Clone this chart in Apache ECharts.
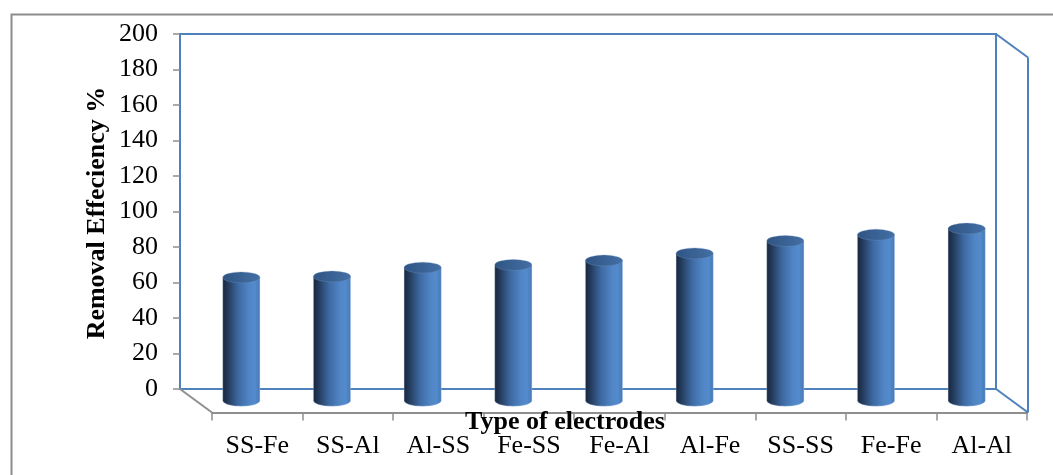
<!DOCTYPE html>
<html>
<head>
<meta charset="utf-8">
<script src="https://cdn.jsdelivr.net/npm/echarts@6/dist/echarts.min.js"></script>
<style>
  html, body { margin: 0; padding: 0; background: #ffffff; }
  #chart { width: 1053px; height: 475px; }
</style>
</head>
<body>
<div id="chart"></div>
<script>
// Electrode pairs and their removal efficiency (%)
const categories = ['SS-Fe', 'SS-Al', 'Al-SS', 'Fe-SS', 'Fe-Al', 'Al-Fe', 'SS-SS', 'Fe-Fe', 'Al-Al'];
const removalEfficiency = [69.5, 70, 75, 76.5, 79, 83, 90, 93.5, 97];
const yMin = 0;
const yMax = 200;
const yStep = 20;

// Oblique projection of the 3-D box: full floor depth on screen
const DEPTH_X = 32;
const DEPTH_Y = 23.5;
const FONT = '"Liberation Serif", "Times New Roman", Times, serif';
const WALL = '#4f81bd';
const FLOOR = '#8f8f8f';

const chart = echarts.init(document.getElementById('chart'), null, { renderer: 'canvas' });

// Wall and floor edges that the grid border and front axis don't cover
function renderFrame(params, api) {
  const band = api.size([1, 0])[0];
  const left = api.coord([0, yMin])[0] - band / 2;
  const right = api.coord([categories.length - 1, yMin])[0] + band / 2;
  const y0 = api.coord([0, yMin])[1];
  const yTop = api.coord([0, yMax])[1];
  const blue = { stroke: WALL, lineWidth: 2, fill: null };
  const gray = { stroke: FLOOR, lineWidth: 2, fill: null };
  return {
    type: 'group',
    children: [
      { type: 'line', shape: { x1: left, y1: y0, x2: left + DEPTH_X, y2: y0 + DEPTH_Y }, style: gray },
      { type: 'line', shape: { x1: right, y1: y0, x2: right + DEPTH_X, y2: y0 + DEPTH_Y }, style: blue },
      { type: 'line', shape: { x1: right, y1: yTop, x2: right + DEPTH_X, y2: yTop + DEPTH_Y }, style: blue },
      { type: 'line', shape: { x1: right + DEPTH_X, y1: yTop + DEPTH_Y, x2: right + DEPTH_X, y2: y0 + DEPTH_Y }, style: blue }
    ]
  };
}

// Cylinders standing in the middle of the floor depth
function renderCylinder(params, api) {
  const idx = api.value(0);
  const val = api.value(1);
  const band = api.size([1, 0])[0];
  const rx = band * 0.205;
  const ry = 5.5;
  const base = api.coord([idx, yMin]);
  const top = api.coord([idx, val]);
  const cx = base[0] + DEPTH_X / 2;
  const yb = base[1] + DEPTH_Y / 2;
  const yt = top[1] + DEPTH_Y / 2;
  const bodyFill = new echarts.graphic.LinearGradient(0, 0, 1, 0, [
    { offset: 0, color: '#17263c' },
    { offset: 0.16, color: '#253d5f' },
    { offset: 0.42, color: '#3d69a2' },
    { offset: 0.7, color: '#5084c5' },
    { offset: 0.86, color: '#548bcc' },
    { offset: 1, color: '#4677b3' }
  ]);
  const topFill = new echarts.graphic.LinearGradient(0, 0, 1, 0, [
    { offset: 0, color: '#2f5482' },
    { offset: 1, color: '#4470a6' }
  ]);
  const body =
    'M' + (cx - rx) + ',' + yt +
    'L' + (cx - rx) + ',' + yb +
    'A' + rx + ',' + ry + ',0,0,0,' + (cx + rx) + ',' + yb +
    'L' + (cx + rx) + ',' + yt + 'Z';
  const cap =
    'M' + (cx - rx) + ',' + yt +
    'A' + rx + ',' + ry + ',0,0,1,' + (cx + rx) + ',' + yt +
    'A' + rx + ',' + ry + ',0,0,1,' + (cx - rx) + ',' + yt + 'Z';
  return {
    type: 'group',
    children: [
      { type: 'path', shape: { pathData: body }, style: { fill: bodyFill, stroke: 'rgba(200,220,245,0.6)', lineWidth: 0.6 } },
      { type: 'path', shape: { pathData: cap }, style: { fill: topFill, stroke: 'rgba(120,155,200,0.5)', lineWidth: 0.6 } }
    ]
  };
}

const option = {
  backgroundColor: '#ffffff',
  animation: false,
  grid: [
    // back wall
    { left: 180, right: 57, top: 34, bottom: 86, show: true, borderColor: WALL, borderWidth: 2, backgroundColor: 'transparent' },
    // front edge of the floor
    { left: 180 + DEPTH_X, right: 57 - DEPTH_X + 1, top: 34 + DEPTH_Y, bottom: 86 - DEPTH_Y, show: false }
  ],
  xAxis: [
    { type: 'category', gridIndex: 0, data: categories, axisLine: { show: false }, axisTick: { show: false }, axisLabel: { show: false } },
    {
      type: 'category', gridIndex: 1, data: categories,
      axisLine: { show: true, lineStyle: { color: FLOOR, width: 2 } },
      axisTick: { show: true, length: 8, lineStyle: { color: FLOOR, width: 1.5 } },
      axisLabel: { color: '#000', fontFamily: FONT, fontSize: 26, margin: 21 }
    }
  ],
  yAxis: [
    {
      type: 'value', gridIndex: 0, min: yMin, max: yMax, interval: yStep,
      axisLine: { show: true, lineStyle: { color: WALL, width: 2 } },
      axisTick: { show: true, length: 7, lineStyle: { color: FLOOR, width: 1.5 } },
      axisLabel: { color: '#000', fontFamily: FONT, fontSize: 26, margin: 22, padding: [4, 0, 0, 0] },
      splitLine: { show: false }
    },
    { type: 'value', gridIndex: 1, min: yMin, max: yMax, show: false }
  ],
  series: [
    {
      type: 'custom', name: 'frame', xAxisIndex: 0, yAxisIndex: 0,
      data: [[0, 0]], renderItem: renderFrame, silent: true, z: 1
    },
    {
      type: 'custom', name: 'Removal Effeciency', xAxisIndex: 0, yAxisIndex: 0,
      data: removalEfficiency.map((v, i) => [i, v]),
      encode: { x: 0, y: 1 },
      renderItem: renderCylinder, z: 5
    }
  ],
  graphic: [
    {
      type: 'rect', left: 9, top: 12, silent: true, z: 0,
      shape: { x: 0, y: 0, width: 1100, height: 500 },
      style: { fill: null, stroke: '#8c8c8c', lineWidth: 2 }
    },
    {
      type: 'text', x: 97, y: 213, rotation: Math.PI / 2, silent: true,
      style: { text: 'Removal Effeciency %', fontFamily: FONT, fontSize: 26, fontWeight: 'bold', fill: '#000', align: 'center', verticalAlign: 'middle' }
    },
    {
      type: 'text', x: 565, y: 422, silent: true, z: 10,
      style: { text: 'Type of electrodes', fontFamily: FONT, fontSize: 26, fontWeight: 'bold', fill: '#000', align: 'center', verticalAlign: 'middle' }
    }
  ]
};

chart.setOption(option);
</script>
</body>
</html>
